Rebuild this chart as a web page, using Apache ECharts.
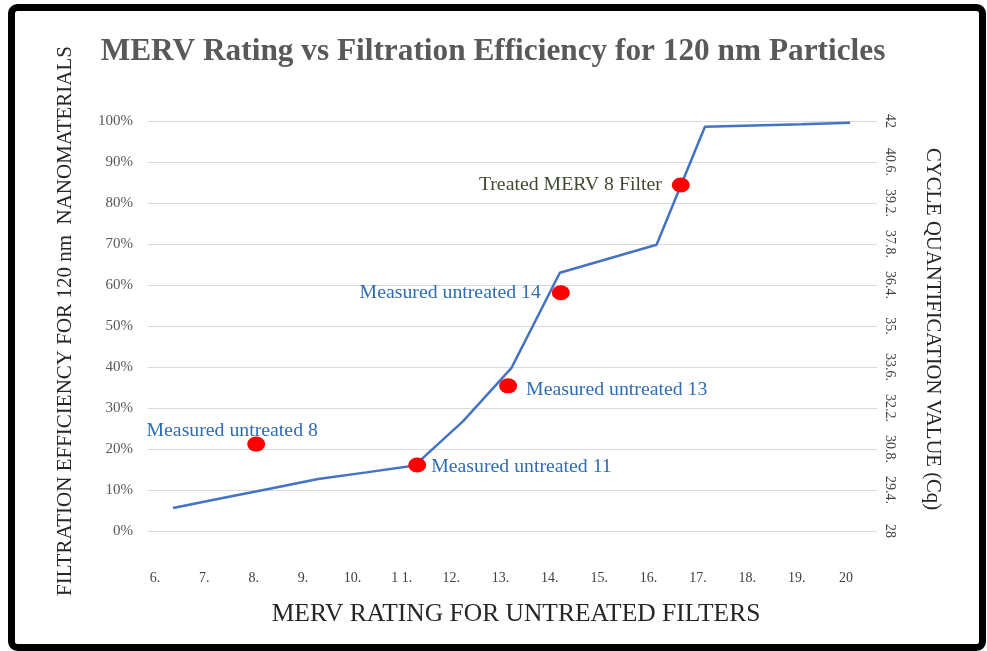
<!DOCTYPE html>
<html><head><meta charset="utf-8">
<script src="https://cdn.jsdelivr.net/npm/echarts@6/dist/echarts.min.js"></script>
<style>html,body{margin:0;padding:0;background:#fff}#c{width:987px;height:651px}</style>
</head><body><div id="c"></div>
<script>
// ---- data ----
const mervRatings = [6, 7, 8, 9, 10, 11, 12, 13, 14, 15, 16, 17, 18, 19, 20];
const efficiencyPct = [5.6, 8.0, 10.3, 12.7, 14.3, 16.0, 26.8, 39.8, 63.0, 66.4, 69.8, 98.6, 98.9, 99.2, 99.6];
const measuredNames = ['Measured untreated 8', 'Measured untreated 11', 'Measured untreated 13', 'Measured untreated 14', 'Treated MERV 8 Filter'];
const measuredX = [7.72, 11.05, 12.93, 14.02, 16.5];
const measuredPct = [21.2, 16.1, 35.4, 58.1, 84.4];
const xTickLabels = ['6.', '7.', '8.', '9.', '10.', '1 1.', '12.', '13.', '14.', '15.', '16.', '17.', '18.', '19.', '20'];
const cqTickLabels = ['28', '29.4.', '30.8.', '32.2.', '33.6.', '35.', '36.4.', '37.8.', '39.2.', '40.6.', '42'];

const SERIF = "'Liberation Serif','Times New Roman',serif";

const labelCfg = [
  {position: 'inside', offset: [-24, -13], color: '#2E6DB4'},
  {position: 'right', distance: 5, offset: [0, 2], color: '#2E6DB4'},
  {position: 'right', distance: 9, offset: [0, 4], color: '#2E6DB4'},
  {position: 'left', distance: 11, offset: [0, 0], color: '#2E6DB4'},
  {position: 'left', distance: 10, offset: [0, 0], color: '#3F4B2E'}
];

const scatterData = measuredNames.map((n, i) => ({
  name: n,
  value: [measuredX[i], measuredPct[i]],
  label: Object.assign({show: true, formatter: n, fontFamily: SERIF, fontSize: 19.8}, labelCfg[i])
}));

const chart = echarts.init(document.getElementById('c'), null, {renderer: 'canvas'});
chart.setOption({
  animation: false,
  backgroundColor: '#fff',
  grid: [
    {left: 148, right: 110, top: 121, bottom: 120},
    {left: 173, right: 137, top: 121, bottom: 120},
    {left: 155, right: 141, top: 121, bottom: 120}
  ],
  xAxis: [
    {gridIndex: 0, type: 'value', min: 0, max: 1, show: false},
    {gridIndex: 1, type: 'value', min: 6, max: 20, show: false},
    {gridIndex: 2, type: 'value', min: 6, max: 20, interval: 1,
      axisLine: {show: false}, axisTick: {show: false}, splitLine: {show: false},
      axisLabel: {margin: 40, fontFamily: SERIF, fontSize: 14, color: '#404040',
        formatter: v => xTickLabels[Math.round(v - 6)] || ''}}
  ],
  yAxis: [
    {gridIndex: 0, type: 'value', min: 0, max: 100, interval: 10, position: 'left',
      axisLine: {show: false}, axisTick: {show: false},
      splitLine: {lineStyle: {color: '#d9d9d9', width: 1}},
      axisLabel: {margin: 15, fontFamily: SERIF, fontSize: 15, color: '#595959', formatter: v => v + '%'}},
    {gridIndex: 0, type: 'value', min: 28, max: 42, interval: 1.4, position: 'right',
      axisLine: {show: false}, axisTick: {show: false}, splitLine: {show: false},
      axisLabel: {margin: 6, rotate: -90, fontFamily: SERIF, fontSize: 14, color: '#404040',
        formatter: v => cqTickLabels[Math.round((v - 28) / 1.4)] || ''}},
    {gridIndex: 1, type: 'value', min: 0, max: 100, show: false},
    {gridIndex: 2, type: 'value', min: 0, max: 100, show: false}
  ],
  series: [
    {type: 'line', xAxisIndex: 1, yAxisIndex: 2, showSymbol: false, symbol: 'none',
      lineStyle: {color: '#4472C4', width: 2.5}, z: 2,
      data: mervRatings.map((m, i) => [m, efficiencyPct[i]])},
    {type: 'scatter', xAxisIndex: 1, yAxisIndex: 2, symbol: 'circle', symbolSize: [18, 15],
      itemStyle: {color: '#FF0000', opacity: 1}, z: 3, data: scatterData}
  ],
  graphic: [
    {type: 'rect', shape: {x: 11.5, y: 7.5, width: 971, height: 640, r: 6},
      style: {fill: 'none', stroke: '#000', lineWidth: 7}, z: 100},
    {type: 'text', x: 493, y: 52, style: {text: 'MERV Rating vs Filtration Efficiency for 120 nm Particles',
      font: "bold 31.3px " + SERIF, fill: '#595959', textAlign: 'center', textVerticalAlign: 'middle'}},
    {type: 'text', x: 516, y: 614, style: {text: 'MERV RATING FOR UNTREATED FILTERS',
      font: "25.5px " + SERIF, fill: '#262626', textAlign: 'center', textVerticalAlign: 'middle'}},
    {type: 'text', x: 65, y: 321, rotation: Math.PI / 2, style: {text: 'FILTRATION EFFICIENCY FOR 120 nm  NANOMATERIALS',
      font: "21px " + SERIF, fill: '#262626', textAlign: 'center', textVerticalAlign: 'middle'}},
    {type: 'text', x: 932, y: 329, rotation: -Math.PI / 2, style: {text: 'CYCLE QUANTIFICATION VALUE (Cq)',
      font: "20.7px " + SERIF, fill: '#262626', textAlign: 'center', textVerticalAlign: 'middle'}}
  ]
});
</script>
</body></html>
